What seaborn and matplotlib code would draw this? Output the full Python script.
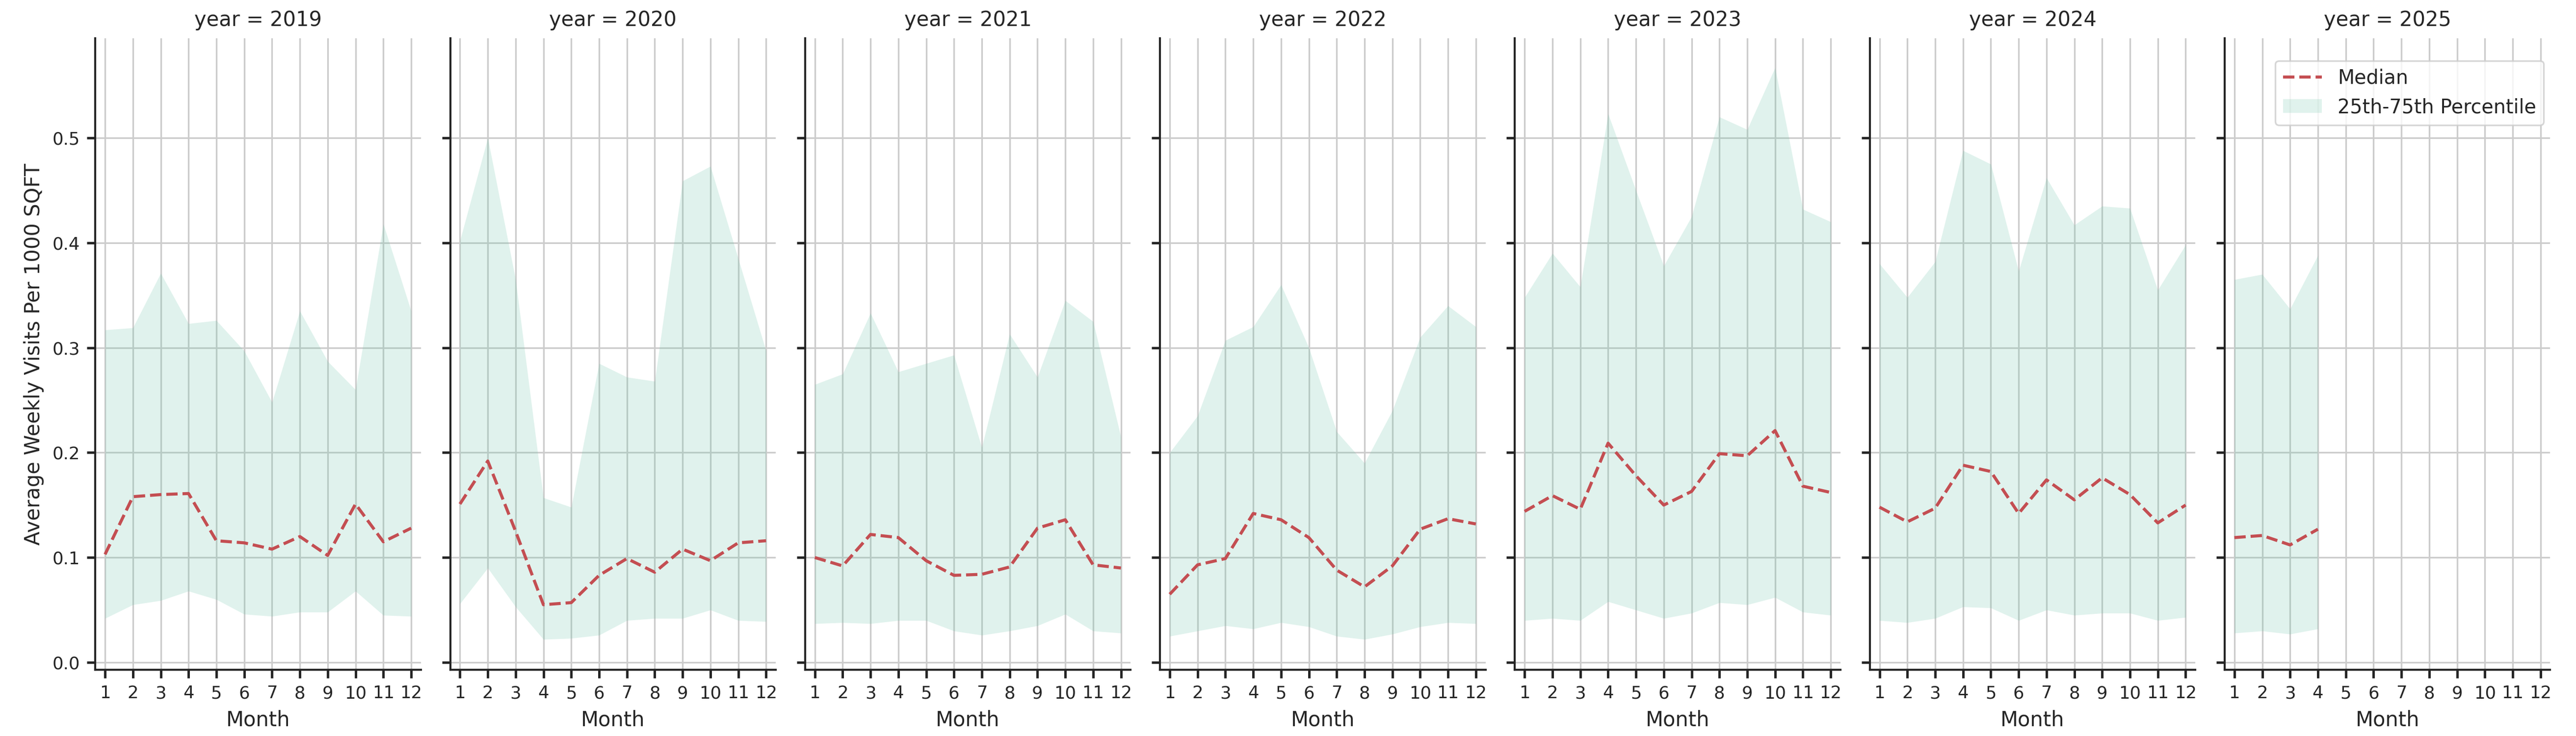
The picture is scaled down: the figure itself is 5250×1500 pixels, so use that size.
import numpy as np
import pandas as pd
import matplotlib
matplotlib.use("Agg")
import matplotlib.pyplot as plt
import seaborn as sns

years = [2019, 2020, 2021, 2022, 2023, 2024, 2025]
months = list(range(1, 13))

median_2019 = [0.103, 0.158, 0.160, 0.161, 0.116, 0.114, 0.108, 0.120, 0.102, 0.151, 0.115, 0.128]
upper_2019 = [0.317, 0.319, 0.371, 0.323, 0.326, 0.297, 0.248, 0.335, 0.287, 0.260, 0.418, 0.335]
lower_2019 = [0.042, 0.055, 0.059, 0.068, 0.060, 0.046, 0.044, 0.048, 0.048, 0.068, 0.045, 0.044]

median_2020 = [0.151, 0.192, 0.125, 0.055, 0.057, 0.083, 0.099, 0.086, 0.108, 0.097, 0.114, 0.116]
upper_2020 = [0.402, 0.500, 0.365, 0.157, 0.148, 0.285, 0.272, 0.268, 0.459, 0.473, 0.385, 0.297]
lower_2020 = [0.056, 0.090, 0.053, 0.022, 0.023, 0.026, 0.040, 0.042, 0.042, 0.050, 0.040, 0.039]

median_2021 = [0.100, 0.092, 0.122, 0.119, 0.097, 0.083, 0.084, 0.091, 0.128, 0.136, 0.093, 0.090]
upper_2021 = [0.265, 0.275, 0.333, 0.277, 0.285, 0.293, 0.205, 0.313, 0.272, 0.345, 0.325, 0.215]
lower_2021 = [0.037, 0.038, 0.037, 0.040, 0.040, 0.030, 0.026, 0.030, 0.035, 0.046, 0.030, 0.028]

median_2022 = [0.065, 0.093, 0.099, 0.142, 0.136, 0.119, 0.088, 0.072, 0.092, 0.127, 0.137, 0.132]
upper_2022 = [0.200, 0.235, 0.307, 0.320, 0.360, 0.300, 0.220, 0.190, 0.240, 0.310, 0.340, 0.320]
lower_2022 = [0.025, 0.030, 0.035, 0.032, 0.038, 0.034, 0.025, 0.022, 0.027, 0.034, 0.038, 0.037]

median_2023 = [0.144, 0.159, 0.146, 0.209, 0.178, 0.150, 0.163, 0.199, 0.197, 0.221, 0.168, 0.162]
upper_2023 = [0.348, 0.390, 0.358, 0.523, 0.450, 0.378, 0.425, 0.520, 0.508, 0.567, 0.432, 0.420]
lower_2023 = [0.040, 0.042, 0.040, 0.058, 0.050, 0.042, 0.047, 0.057, 0.055, 0.062, 0.048, 0.045]

median_2024 = [0.148, 0.134, 0.147, 0.188, 0.182, 0.142, 0.174, 0.155, 0.176, 0.160, 0.133, 0.150]
upper_2024 = [0.380, 0.348, 0.382, 0.488, 0.475, 0.373, 0.462, 0.417, 0.435, 0.433, 0.355, 0.398]
lower_2024 = [0.040, 0.038, 0.042, 0.053, 0.052, 0.040, 0.050, 0.045, 0.047, 0.047, 0.040, 0.043]

median_2025 = [0.119, 0.121, 0.112, 0.127]
upper_2025 = [0.365, 0.370, 0.337, 0.388]
lower_2025 = [0.028, 0.030, 0.027, 0.032]

series = {
    2019: (median_2019, lower_2019, upper_2019),
    2020: (median_2020, lower_2020, upper_2020),
    2021: (median_2021, lower_2021, upper_2021),
    2022: (median_2022, lower_2022, upper_2022),
    2023: (median_2023, lower_2023, upper_2023),
    2024: (median_2024, lower_2024, upper_2024),
    2025: (median_2025, lower_2025, upper_2025),
}

rows = []
for year in years:
    med, lo, hi = series[year]
    for i in range(len(med)):
        rows.append({"year": year, "Month": months[i], "median": med[i], "q25": lo[i], "q75": hi[i]})
df = pd.DataFrame(rows)

sns.set_theme(style="whitegrid", context="paper")
sns.set_style("whitegrid", {"axes.edgecolor": "#262626", "xtick.bottom": True, "ytick.left": True})


def draw_band(data, **kwargs):
    ax = plt.gca()
    ax.fill_between(data["Month"], data["q25"], data["q75"], color="#66c2a5", alpha=0.2,
                    linewidth=0, label="25th-75th Percentile")
    sns.lineplot(data=data, x="Month", y="median", ax=ax, color="#c44e52", linestyle="--",
                 linewidth=1.5, label="Median")


g = sns.FacetGrid(df, col="year", col_order=years, height=5, aspect=0.5, sharey=True, sharex=True)
g.map_dataframe(draw_band)
g.set_titles("year = {col_name}", size=10)
g.set_axis_labels("Month", "Average Weekly Visits Per 1000 SQFT", fontsize=10)
for ax in g.axes.flat:
    ax.set_xticks(months)
    ax.set_xlim(0.65, 12.35)
    ax.set_ylim(-0.007, 0.595)
    ax.set_yticks([0.0, 0.1, 0.2, 0.3, 0.4, 0.5])
    ax.tick_params(axis="both", length=4, width=1.2, colors="#262626", labelsize=8.5)
    if ax.get_legend() is not None:
        ax.get_legend().remove()

last = g.axes.flat[-1]
handles, labels = last.get_legend_handles_labels()
order = [labels.index("Median"), labels.index("25th-75th Percentile")]
last.legend([handles[i] for i in order], [labels[i] for i in order], loc="upper right",
            frameon=True, fontsize=9.5, bbox_to_anchor=(1.01, 0.98))

g.figure.set_size_inches(17.5, 5)
g.figure.subplots_adjust(left=0.037, right=0.99, bottom=0.09, top=0.948, wspace=0.09)
g.figure.savefig("out.png", dpi=300)
